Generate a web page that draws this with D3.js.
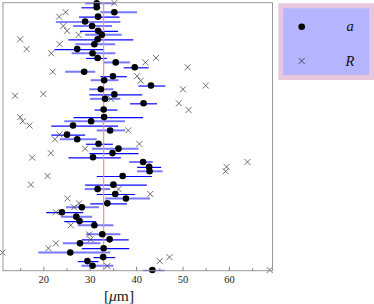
<!DOCTYPE html>
<html>
<head>
<meta charset="utf-8">
<script src="https://cdn.jsdelivr.net/npm/d3@7"></script>
<style>
  body { margin: 0; background: #fff; }
  .tick text { font-family: 'Liberation Serif', serif; font-size: 10.5px; fill: #222; }
</style>
</head>
<body>
<svg class="chart" width="374" height="304"></svg>
<script>
// rows of the a series (sample position, bottom = 0)
const rowY = [60.0, 59.1, 58.0, 57.0, 55.9, 54.9, 53.8, 52.9, 51.9, 50.8, 49.7, 48.75, 47.7, 46.7, 45.6,
  44.6, 43.6, 42.7, 41.5, 40.65, 39.5, 38.5, 37.5, 36.1, 34.4, 33.45, 32.5, 31.4, 30.45, 29.4, 28.4, 27.3,
  26.3, 25.35, 24.3, 23.2, 22.2, 21.15, 19.2, 18.2, 17.1, 16.1, 15.0, 14.1, 13.0, 12.0, 11.0, 10.06, 8.03,
  6.9, 6.0, 4.9, 3.95, 2.9, 2.0, 0.95, 0]
// a values [um]
const aValues = [31.5, 31.5, 35.3, 31.8, 29.0, 30.5, 31.8, 32.6, 31.7, 31.0, 27.3, 30.6, 31.7, 35.6, 39.7,
  28.8, 35.0, 33.1, 43.2, 32.4, 35.3, 33.3, 41.6, 33.0, 33.1, 30.3, 26.4, 34.4, 25.1, 27.3, 31.9, 36.2,
  34.9, 30.7, 41.5, 42.8, 42.9, 37.1, 35.1, 31.7, 35.5, 37.8, 33.8, 28.3, 24.0, 27.1, 27.8, 31.0, 32.7,
  34.3, 27.9, 33.0, 25.8, 32.9, 29.5, 30.6, 43.5]
// error bar ends
const aLow = [29.0, 28.2, 32.3, 27.7, 22.7, 26.4, 27.9, 29.0, 25.4, 26.9, 22.4, 26.1, 29.2, 33.0, 37.3,
  24.7, 32.3, 30.2, 40.5, 29.9, 29.9, 30.1, 38.7, 31.0, 26.5, 24.5, 21.7, 31.5, 21.7, 23.5, 29.2, 30.5,
  29.9, 25.4, 38.5, 40.2, 40.2, 31.5, 29.0, 28.9, 31.5, 33.3, 30.1, 24.9, 20.6, 23.8, 24.5, 27.4, 29.2,
  28.3, 24.2, 28.3, 18.9, 30.8, 27.4, 28.2, 41.5]
const aHigh = [35.5, 32.3, 40.2, 36.4, 36.6, 34.8, 36.1, 36.9, 39.4, 35.5, 33.0, 35.5, 33.7, 38.7, 42.7,
  31.2, 38.0, 36.2, 46.3, 35.1, 41.3, 36.6, 44.5, 36.0, 41.5, 37.6, 36.1, 37.6, 29.0, 31.5, 35.0, 40.5,
  40.5, 36.7, 43.6, 45.4, 45.7, 43.4, 42.3, 34.4, 39.8, 43.0, 38.0, 32.0, 28.6, 30.5, 31.4, 35.1, 36.6,
  38.4, 32.3, 38.5, 34.4, 35.5, 31.9, 35.1, 46.1]
// 'd' = dark blue bar, 'l' = light blue bar
const barType = ['l', 'd', 'l', 'd', 'd', 'l', 'd', 'l', 'd', 'l', 'd', 'l', 'd', 'l', 'd',
  'l', 'd', 'l', 'd', 'l', 'd', 'l', 'd', 'd', 'd', 'l', 'd', 'l', 'd', 'l', 'd', 'l',
  'd', 'd', 'l', 'd', 'l', 'd', 'd', 'l', 'd', 'l', 'd', 'l', 'd', 'l', 'd', 'l', 'l',
  'd', 'l', 'd', 'l', 'd', 'd', 'l', 'd']

// R series
const crossY = [60.1, 58.0, 57.0, 54.9, 53.8, 52.9, 51.9, 50.8, 49.7, 48.75, 47.7, 46.7, 45.6, 44.6, 43.6,
  42.6, 41.5, 40.65, 39.6, 39.2, 38.5, 37.5, 36.0, 34.4, 33.45, 32.5, 31.4, 30.5, 29.4, 28.35, 27.3, 26.3,
  25.3, 24.3, 23.2, 22.2, 21.15, 19.2, 18.2, 17.1, 16.1, 15.0, 14.1, 13.0, 10.06, 8.03, 6.9, 6.0, 4.9,
  3.94, 2.9, 2.0, 0.9, 0]
const rValues = [35.3, 24.8, 23.4, 24.3, 25.1, 27.6, 15.0, 23.5, 16.4, 21.7, 44.3, 42.0, 51.1, 22.0, 40.2,
  41.0, 55.0, 50.1, 20.0, 13.9, 34.6, 49.2, 51.3, 15.0, 15.55, 17.0, 38.3, 23.5, 22.5, 40.7, 29.0, 21.6,
  17.6, 64.0, 59.5, 59.3, 20.9, 17.3, 36.2, 43.05, 25.2, 27.7, 26.6, 22.7, 25.9, 29.9, 30.2, 22.7, 21.1,
  11.2, 47.2, 45.1, 33.8, 68.8]

const refLine = 33.0
const majorTicks = [20, 30, 40, 50, 60]
const minorTicks = [15, 25, 35, 45, 55, 65]
const legendLabels = ['a', 'R']

const svg = d3.select('.chart')
const x = d3.scaleLinear().domain([11.3, 69.4]).range([3, 272.5])
const y = d3.scaleLinear().domain([0, 60]).range([270, 3.3])
const plotBottom = 270.7
const plotTop = 2.7
const dotR = 3.3

const rows = rowY.map((r, i) => ({ y: r, a: aValues[i], lo: aLow[i], hi: aHigh[i], t: barType[i] }))
const crosses = crossY.map((r, i) => ({ y: r, v: rValues[i] }))

// error bars
svg.append('g').selectAll('line')
  .data(rows)
  .enter()
  .append('line')
  .attr('x1', d => x(d.lo))
  .attr('x2', d => x(d.hi))
  .attr('y1', d => y(d.y) + (d.t === 'l' ? 0 : 0.5))
  .attr('y2', d => y(d.y) + (d.t === 'l' ? 0 : 0.5))
  .attr('stroke', d => d.t === 'l' ? '#7878ff' : '#0808ff')
  .attr('stroke-width', d => d.t === 'l' ? 2 : 1.2)

// reference line
svg.append('line')
  .attr('x1', x(refLine)).attr('x2', x(refLine))
  .attr('y1', plotTop).attr('y2', plotBottom)
  .attr('stroke', '#ff8c8c')
  .attr('stroke-width', 1.2)

// R markers
const s = 3
svg.append('g').selectAll('path')
  .data(crosses)
  .enter()
  .append('path')
  .attr('d', d => {
    const cx = x(d.v)
    const cy = y(d.y)
    return `M${cx - s},${cy - s}L${cx + s},${cy + s}M${cx - s},${cy + s}L${cx + s},${cy - s}`
  })
  .attr('stroke', '#4a4a4a')
  .attr('stroke-width', 0.8)
  .attr('fill', 'none')

// a markers
svg.append('g').selectAll('circle')
  .data(rows)
  .enter()
  .append('circle')
  .attr('cx', d => x(d.a))
  .attr('cy', d => y(d.y))
  .attr('r', dotR)
  .attr('fill', '#000')

// frame
svg.append('rect')
  .attr('x', x.range()[0]).attr('y', plotTop)
  .attr('width', x.range()[1] - x.range()[0])
  .attr('height', plotBottom - plotTop)
  .attr('fill', 'none')
  .attr('stroke', '#999')
  .attr('stroke-width', 1)

// axis ticks (inward)
svg.append('g')
  .attr('transform', `translate(0,${plotBottom})`)
  .call(d3.axisBottom(x).tickValues(minorTicks).tickSize(-2.5).tickFormat(''))
svg.append('g')
  .attr('transform', `translate(0,${plotBottom})`)
  .call(d3.axisBottom(x).tickValues(majorTicks).tickSize(-4).tickPadding(5))
svg.selectAll('.domain').remove()
svg.selectAll('.tick line').attr('stroke', '#666').attr('stroke-width', 0.8)

// axis label
const label = svg.append('text')
  .attr('x', 119)
  .attr('y', 301)
  .attr('text-anchor', 'middle')
  .attr('font-family', "'Liberation Serif', serif")
  .attr('font-size', 15.5)
  .attr('fill', '#222')
label.append('tspan').text('[')
label.append('tspan').attr('font-style', 'italic').text('μ')
label.append('tspan').text('m]')

// legend
const legend = svg.append('g')
legend.append('rect')
  .attr('x', 280.8).attr('y', 5.8)
  .attr('width', 91).attr('height', 71.7)
  .attr('fill', '#b4b4ff')
  .attr('stroke', '#e8c6dc')
  .attr('stroke-width', 5)
legend.append('circle')
  .attr('cx', 301.7).attr('cy', 26.7).attr('r', dotR).attr('fill', '#000')
legend.append('path')
  .attr('d', `M${301.7 - s},${61 - s}L${301.7 + s},${61 + s}M${301.7 - s},${61 + s}L${301.7 + s},${61 - s}`)
  .attr('stroke', '#333').attr('stroke-width', 0.8)
legend.selectAll('text.lab')
  .data(legendLabels)
  .enter()
  .append('text')
  .attr('class', 'lab')
  .attr('x', 350)
  .attr('y', (d, i) => i === 0 ? 31 : 65.5)
  .attr('text-anchor', 'middle')
  .attr('font-family', "'Liberation Serif', serif")
  .attr('font-style', 'italic')
  .attr('font-size', 14.5)
  .attr('fill', '#111')
  .text(d => d)
</script>
</body>
</html>
